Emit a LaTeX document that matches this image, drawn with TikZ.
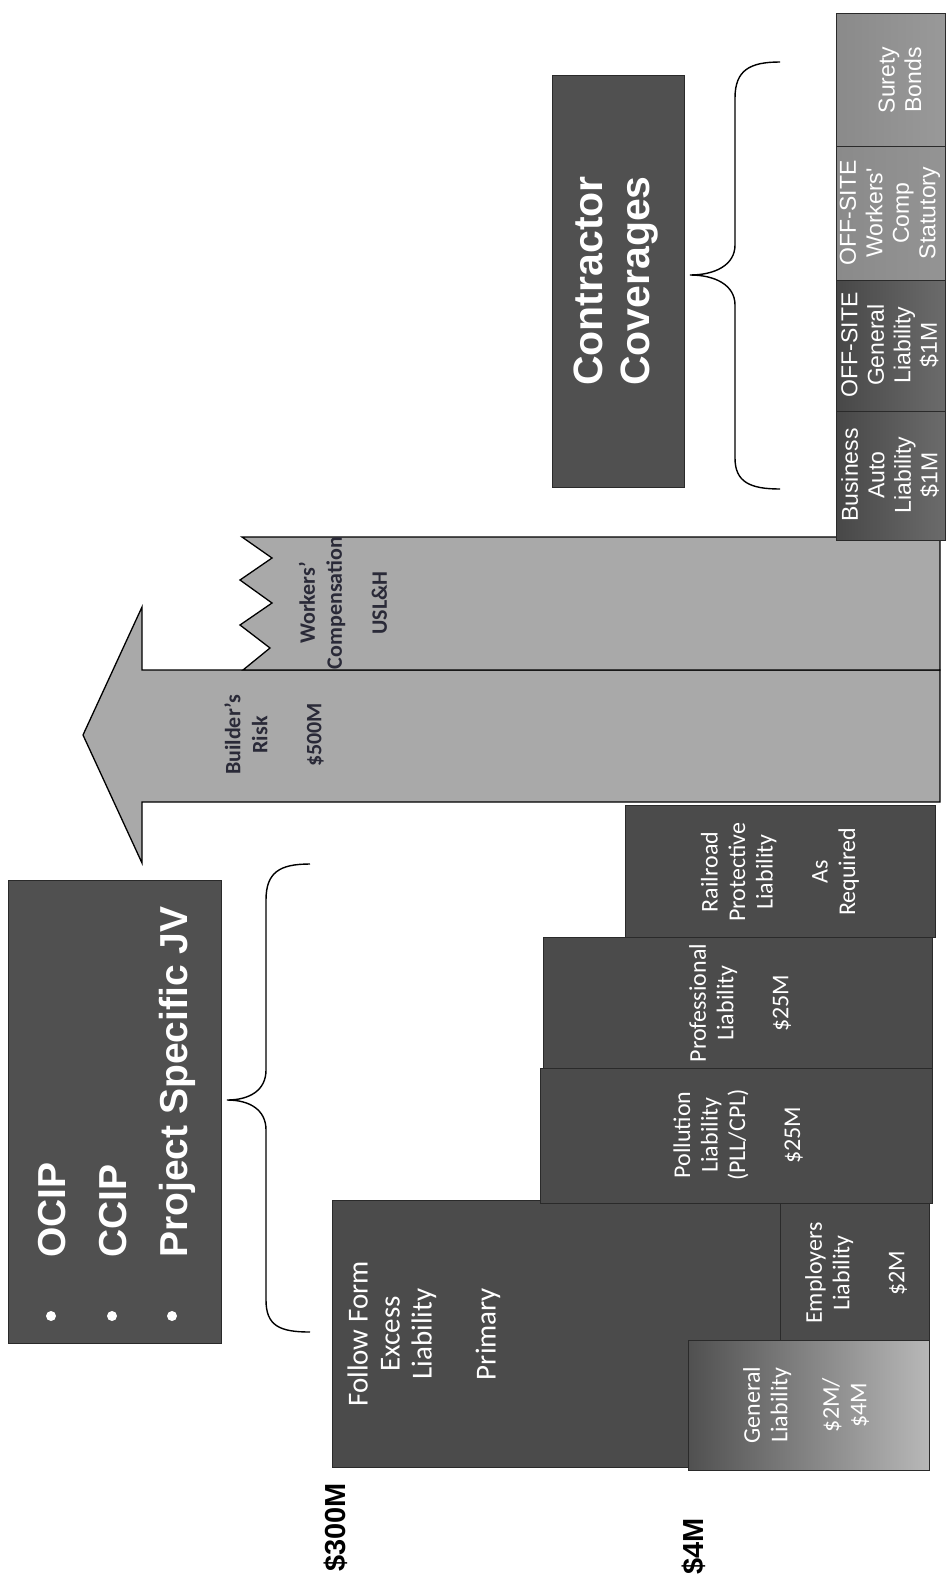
\documentclass[tikz,border=0pt]{standalone}
\usepackage{fontspec}
\setmainfont{Carlito}
\newfontfamily\lsans{Liberation Sans}
\definecolor{dk}{HTML}{4B4B4B}
\definecolor{dkb}{HTML}{505050}
\definecolor{lt}{HTML}{A9A9A9}
\definecolor{ed}{HTML}{2A2A2A}
\definecolor{stripl}{HTML}{8A8A8A}
\definecolor{brtxt}{HTML}{2A2A38}
\tikzset{
  box/.style={fill=dk, draw=ed, line width=0.8pt},
  lightbox/.style={fill=lt, draw=black, line width=1.3pt},
  wtxt/.style={text=white, rotate=90, align=center, inner sep=0pt, font=\fontsize{24}{27.5}\selectfont},
  fftxt/.style={text=white, rotate=90, align=center, inner sep=0pt, font=\fontsize{29}{32}\selectfont},
  brt/.style={text=brtxt, rotate=90, align=center, inner sep=0pt, font=\bfseries\fontsize{22}{27}\selectfont},
  striptxt/.style={text=white, rotate=90, align=center, inner sep=0pt, font=\lsans\fontsize{23}{26.5}\selectfont},
  bigtxt/.style={text=white, rotate=90, anchor=base west, inner sep=0pt, font=\lsans\bfseries\fontsize{39}{45}\selectfont},
  axtxt/.style={text=black, rotate=90, anchor=base west, inner sep=0pt, font=\lsans\bfseries\fontsize{29}{32}\selectfont},
  bracepath/.style={draw=black, line width=1.4pt}
}
\begin{document}
\begin{tikzpicture}[x=1pt,y=-1pt]
\useasboundingbox (0,0) rectangle (951,1585);
\fill[white] (0,0) rectangle (951,1585);

% OCIP box
\fill[fill=dkb, draw=ed, line width=0.8pt] (8,880) rectangle (221,1343);
\node[bigtxt] (tocip) at (65,1258) {OCIP};
\node[bigtxt] (tccip) at (126,1258) {CCIP};
\node[bigtxt] (tpsjv) at (187,1258) {Project Specific JV};
\fill[white] (51,1316) circle (5);
\fill[white] (112,1316) circle (5);
\fill[white] (172,1316) circle (5);

% brace for OCIP
\draw[bracepath] (310,864) .. controls (280,864) and (266,872) .. (266,900)
  -- (266,1070) .. controls (266,1090) and (250,1100) .. (227,1100)
  .. controls (250,1100) and (266,1110) .. (266,1130)
  -- (266,1300) .. controls (266,1326) and (280,1332) .. (310,1332);

% Follow form excess
\fill[box] (332,1200) rectangle (780,1467);
% General liability (gradient)
\shade[left color=dkb, right color=black!28] (688,1340) rectangle (929,1470);
\draw[draw=ed, line width=0.8pt] (688,1340) rectangle (929,1470);
% Employers
\fill[box] (780,1203) rectangle (929,1340);
% Pollution, Professional, Railroad
\fill[box] (540,1068) rectangle (932,1203);
\fill[box] (543,937) rectangle (932,1068);
\fill[box] (625,805) rectangle (935,937);

% Builder's risk arrow
\draw[lightbox] (940,670) -- (142,670) -- (142,607) -- (83,735) -- (142,863)
  -- (142,802) -- (940,802) -- cycle;
% Workers' comp
\draw[lightbox] (940,537) -- (242,537) -- (272,558) -- (240,580) -- (272,603)
  -- (240,625) -- (270,648) -- (243,670) -- (940,670) -- cycle;

% strip
\shade[left color=stripl, right color=black!40, draw=ed, line width=0.8pt] (836,13) rectangle (945,146);
\shade[left color=stripl, right color=black!42, draw=ed, line width=0.8pt] (836,146) rectangle (945,280);
\shade[left color=black!72, right color=black!58, draw=ed, line width=0.8pt] (836,280) rectangle (945,411);
\shade[left color=black!72, right color=black!58, draw=ed, line width=0.8pt] (836,411) rectangle (945,540);

% Contractor coverages
\fill[fill=dkb, draw=ed, line width=0.8pt] (552,75) rectangle (684,487);
\node[text=white, rotate=90, align=center, inner sep=0pt,
  font=\lsans\bfseries\fontsize{41}{47}\selectfont] (tcc) at (616,281) {Contractor\\Coverages};

% brace for contractor
\draw[bracepath] (780,62) .. controls (750,62) and (735,70) .. (735,98)
  -- (735,245) .. controls (735,265) and (715,275) .. (690,275)
  .. controls (715,275) and (735,285) .. (735,305)
  -- (735,458) .. controls (735,482) and (750,489) .. (780,489);

% texts
\node[fftxt] (tff) at (424,1334) {Follow Form\\Excess\\Liability\\[32pt]Primary};
\node[wtxt] (tpol) at (738,1135) {Pollution\\Liability\\(PLL/CPL)\\[27.5pt]\$25M};
\node[wtxt] (tprof) at (740,1003) {Professional\\Liability\\[27.5pt]\$25M};
\node[wtxt] (trr) at (780,872) {Railroad\\Protective\\Liability\\[27.5pt]As\\Required};
\node[wtxt] (temp) at (856,1273) {Employers\\Liability\\[27.5pt]\$2M};
\node[wtxt] (tgl) at (806,1405) {General\\Liability\\[24pt]\$2M/\\\$4M};

\node[brt] (tbr) at (274,735) {Builder's\\Risk\\[27pt]\$500M};
\node[brt] (twc) at (343,603) {Workers'\\Compensation\\[18pt]USL\&H};

\node[striptxt] (tsb) at (900,80) {Surety\\Bonds};
\node[striptxt] (towc) at (890,213) {OFF-SITE\\Workers'\\Comp\\Statutory};
\node[striptxt] (togl) at (890,345) {OFF-SITE\\General\\Liability\\\$1M};
\node[striptxt] (tba) at (890,475) {Business\\Auto\\Liability\\\$1M};

\node[axtxt] (t300) at (345,1572) {\$300M};
\node[axtxt] (t4) at (703,1575) {\$4M};
\end{tikzpicture}
\end{document}
